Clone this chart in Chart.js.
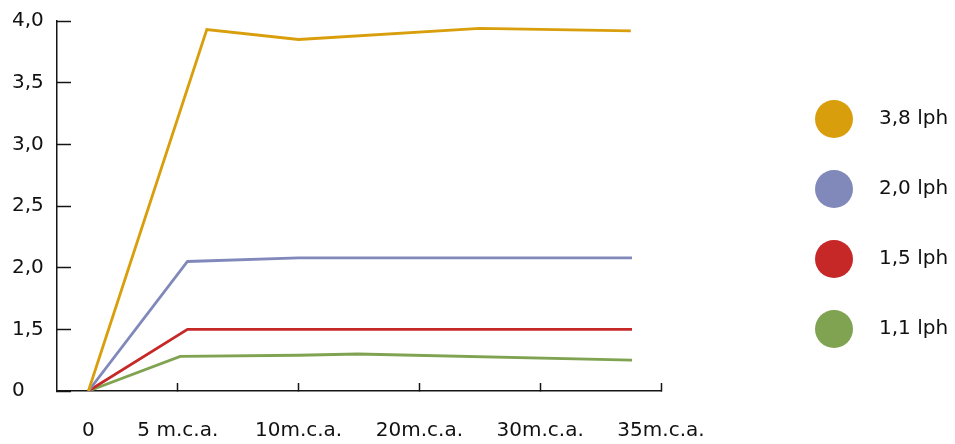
<!DOCTYPE html>
<html>
<head>
<meta charset="utf-8">
<script src="https://cdn.jsdelivr.net/npm/chart.js@4.4.0/dist/chart.umd.min.js"></script>
<style>
  html, body { margin: 0; padding: 0; background: #fff; }
  #wrap { width: 955px; height: 444px; }
</style>
</head>
<body>
<div id="wrap"><canvas id="chart"></canvas></div>
<script>
// eje X: categorías y su posición en el eje
const categories = ['0', '5 m.c.a.', '10m.c.a.', '20m.c.a.', '30m.c.a.', '35m.c.a.'];
const categoryPos = [0.26, 1, 2, 3, 4, 5];

// eje Y cortado: el "0" ocupa el lugar de 1,0
const yTicks = [1, 1.5, 2, 2.5, 3, 3.5, 4];
const yTickLabels = ['0', '1,5', '2,0', '2,5', '3,0', '3,5', '4,0'];
const yBreak = 1;

// series (posición x, caudal)
const seriesNames = ['3,8 lph', '2,0 lph', '1,5 lph', '1,1 lph'];
const x38 = [0.26, 1.24, 2, 3.5, 4.75];
const y38 = [0, 3.93, 3.85, 3.94, 3.92];
const x20 = [0.26, 1.08, 2, 4.76];
const y20 = [0, 2.05, 2.08, 2.08];
const x15 = [0.26, 1.08, 4.76];
const y15 = [0, 1.5, 1.5];
const x11 = [0.26, 1.02, 2, 2.49, 4.76];
const y11 = [0, 1.28, 1.29, 1.3, 1.25];

const colors = ['#D99E0C', '#8189BB', '#C62828', '#7FA351'];
const axisColor = '#151515';
const textColor = '#111111';
const fontFamily = '"DejaVu Sans", sans-serif';

// círculo de la leyenda (imagen desplazada para dejarlo a la izquierda del texto)
function dot(color) {
    const c = document.createElement('canvas');
    c.width = 88;
    c.height = 38;
    const g = c.getContext('2d');
    g.fillStyle = color;
    g.beginPath();
    g.arc(21, 19, 19, 0, Math.PI * 2);
    g.fill();
    return c;
}

function points(xs, ys) {
    return xs.map((x, i) => ({ x: x, y: Math.max(ys[i], yBreak) }));
}

const allX = [x38, x20, x15, x11];
const allY = [y38, y20, y15, y11];

Chart.defaults.font.family = fontFamily;
Chart.defaults.font.size = 20;
Chart.defaults.color = textColor;

new Chart(document.getElementById('chart'), {
    type: 'line',
    data: {
        datasets: seriesNames.map((name, i) => ({
            label: name,
            data: points(allX[i], allY[i]),
            borderColor: colors[i],
            backgroundColor: colors[i],
            borderWidth: 2.8,
            tension: 0,
            fill: false,
            pointRadius: 0,
            pointHoverRadius: 0,
            pointStyle: dot(colors[i])
        }))
    },
    options: {
        responsive: true,
        maintainAspectRatio: false,
        animation: false,
        layout: {
            padding: { top: 4, left: 12, right: 0, bottom: 0 }
        },
        scales: {
            x: {
                type: 'linear',
                min: 0,
                max: 5,
                border: { color: axisColor, width: 1.5 },
                grid: {
                    drawOnChartArea: false,
                    tickLength: -8,
                    tickWidth: 1.5,
                    tickColor: c => c.index === 0 ? 'rgba(0,0,0,0)' : axisColor
                },
                ticks: {
                    padding: 36,
                    maxRotation: 0,
                    autoSkip: false,
                    color: textColor,
                    callback: (v, i) => categories[i]
                },
                afterBuildTicks: s => { s.ticks = categoryPos.map(v => ({ value: v })); },
                afterFit: s => { s.height = 53; s.paddingRight = 294; }
            },
            y: {
                type: 'linear',
                min: 1,
                max: 4,
                border: { color: axisColor, width: 1.5 },
                grid: {
                    drawOnChartArea: false,
                    tickLength: -14,
                    tickWidth: 1.5,
                    tickColor: axisColor
                },
                ticks: {
                    crossAlign: 'far',
                    autoSkip: false,
                    color: textColor,
                    callback: (v, i) => yTickLabels[i]
                },
                afterBuildTicks: s => { s.ticks = yTicks.map(v => ({ value: v })); },
                afterFit: s => { s.width = 45; s.paddingTop = 21; }
            },
            gap: {
                axis: 'y',
                position: 'right',
                grid: { display: false },
                border: { display: false },
                ticks: { display: false },
                afterFit: s => { s.width = 134; }
            }
        },
        plugins: {
            legend: {
                position: 'right',
                align: 'center',
                labels: {
                    usePointStyle: true,
                    pointStyleWidth: 24,
                    padding: 50,
                    color: textColor,
                    font: { size: 20 }
                }
            },
            tooltip: { enabled: false }
        }
    }
});
</script>
</body>
</html>
